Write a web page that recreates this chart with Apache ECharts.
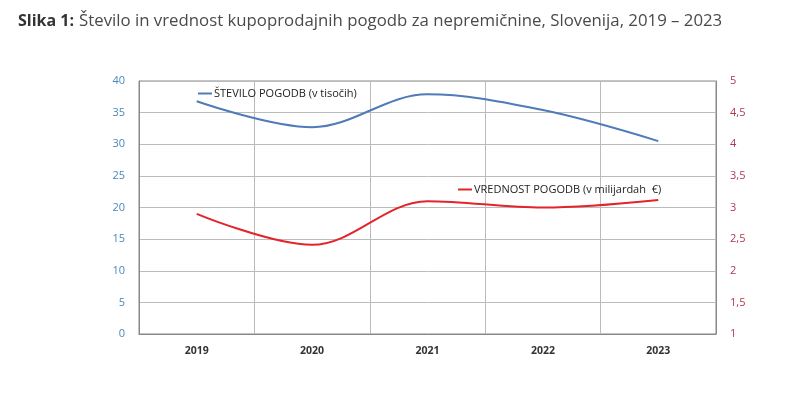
<!DOCTYPE html>
<html><head><meta charset="utf-8">
<script src="https://cdn.jsdelivr.net/npm/echarts@6/dist/echarts.min.js"></script>
<style>html,body{margin:0;padding:0;background:#fff}#c{width:806px;height:404px}</style>
</head><body><div id="c"></div>
<script>
const categories = ['2019','2020','2021','2022','2023'];
const steviloPogodb = [36.8, 32.7, 37.9, 35.4, 30.5];
const vrednostPogodb = [2.90, 2.41, 3.10, 3.00, 3.12];
const leftTicks = [0,5,10,15,20,25,30,35,40];
const rightTicks = [1,1.5,2,2.5,3,3.5,4,4.5,5];

const chart = echarts.init(document.getElementById('c'));
chart.setOption({
  backgroundColor:'#fff',
  animation:false,
  title:{
    text:'{b|Slika 1:} {n|Število in vrednost kupoprodajnih pogodb za nepremičnine, Slovenija, 2019 – 2023}',
    left:18, top:12, padding:0,
    textStyle:{fontWeight:'normal',rich:{
      b:{fontFamily:'Open Sans',fontWeight:'bold',fontSize:16,color:'#333'},
      n:{fontFamily:'Open Sans',fontWeight:'normal',fontSize:16.8,color:'#4a4a4a'}
    }}
  },
  grid:{left:139,right:90,top:81,bottom:70,show:true,borderColor:'#888',borderWidth:1},
  legend:[
    {data:['ŠTEVILO POGODB (v tisočih)'],left:193,top:83,itemWidth:14,itemHeight:2,itemGap:2,
      icon:'rect',textStyle:{fontFamily:'Open Sans',fontSize:11,color:'#222',padding:[0,0,0,-3]}},
    {data:['VREDNOST POGODB (v milijardah  €)'],left:453,top:179,itemWidth:14,itemHeight:2,
      icon:'rect',textStyle:{fontFamily:'Open Sans',fontSize:11,color:'#222',padding:[0,0,0,-3]}}
  ],
  xAxis:{type:'category',data:categories,boundaryGap:true,
    axisLine:{lineStyle:{color:'#888'}},axisTick:{show:false},
    splitLine:{show:true,lineStyle:{color:'#bbb'}},
    axisLabel:{fontFamily:'Open Sans',fontSize:10.5,fontWeight:'bold',color:'#333',margin:12}},
  yAxis:[
    {type:'value',min:0,max:40,interval:5,position:'left',
      axisLine:{show:true,lineStyle:{color:'#888'}},
      splitLine:{lineStyle:{color:'#bbb'}},
      axisLabel:{fontFamily:'Open Sans',fontSize:11,color:'#4a89b8',margin:14,
        formatter:v=>leftTicks.includes(v)?String(v):''}},
    {type:'value',min:1,max:5,interval:0.5,position:'right',
      axisLine:{show:true,lineStyle:{color:'#888'}},
      splitLine:{show:false},
      axisLabel:{fontFamily:'Open Sans',fontSize:11,color:'#b0394a',margin:14,
        formatter:v=>rightTicks.includes(v)?String(v).replace('.',','):''}}
  ],
  series:[
    {name:'ŠTEVILO POGODB (v tisočih)',type:'line',data:steviloPogodb,yAxisIndex:0,
      smooth:0.35,showSymbol:false,lineStyle:{color:'#4f7bb8',width:2},itemStyle:{color:'#4f7bb8'}},
    {name:'VREDNOST POGODB (v milijardah  €)',type:'line',data:vrednostPogodb,yAxisIndex:1,
      smooth:0.35,showSymbol:false,lineStyle:{color:'#e3242b',width:2},itemStyle:{color:'#e3242b'}}
  ]
});
</script></body></html>
